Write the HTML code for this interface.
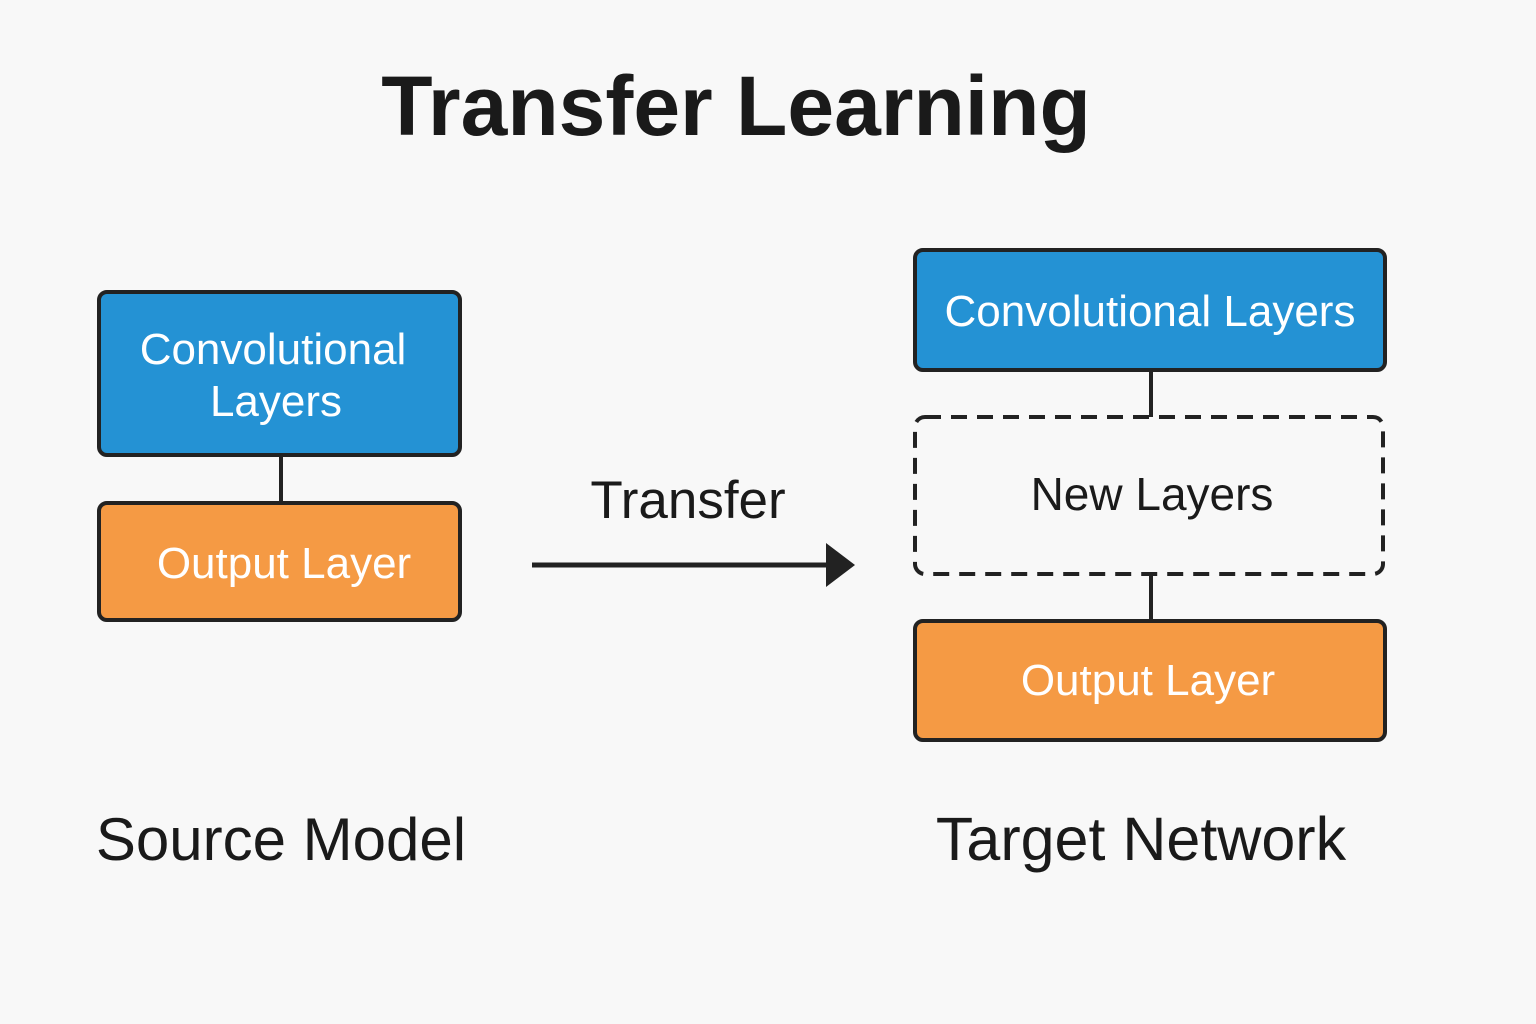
<!DOCTYPE html>
<html><head><meta charset="utf-8"><style>
body{margin:0;background:#f8f8f8;}
svg{display:block}
text{font-family:"Liberation Sans",sans-serif;}
</style></head><body>
<svg width="1536" height="1024" viewBox="0 0 1536 1024">
<rect width="1536" height="1024" fill="#f8f8f8"/>
<text x="736" y="135" font-size="84" font-weight="bold" fill="#1a1a1a" text-anchor="middle">Transfer Learning</text>
<line x1="281" y1="455" x2="281" y2="503" stroke="#222" stroke-width="4"/>
<rect x="99" y="292" width="361" height="163" rx="8" fill="#2492d4" stroke="#222" stroke-width="4"/>
<text x="273" y="364" font-size="44" fill="#fff" text-anchor="middle">Convolutional</text>
<text x="276" y="416" font-size="44" fill="#fff" text-anchor="middle">Layers</text>
<rect x="99" y="503" width="361" height="117" rx="8" fill="#f59a44" stroke="#222" stroke-width="4"/>
<text x="284" y="578" font-size="44" fill="#fff" text-anchor="middle">Output Layer</text>
<text x="688" y="518" font-size="53" fill="#1a1a1a" text-anchor="middle">Transfer</text>
<line x1="532" y1="565" x2="832" y2="565" stroke="#222" stroke-width="5"/>
<polygon points="826,543 855,565 826,587" fill="#222"/>
<line x1="1151" y1="370" x2="1151" y2="417" stroke="#222" stroke-width="4"/>
<line x1="1151" y1="574" x2="1151" y2="621" stroke="#222" stroke-width="4"/>
<rect x="915" y="250" width="470" height="120" rx="8" fill="#2492d4" stroke="#222" stroke-width="4"/>
<text x="1150" y="326" font-size="44" fill="#fff" text-anchor="middle">Convolutional Layers</text>
<rect x="915" y="417" width="468" height="157" rx="10" fill="none" stroke="#222" stroke-width="4" stroke-dasharray="16,10"/>
<text x="1152" y="510" font-size="46" fill="#1a1a1a" text-anchor="middle">New Layers</text>
<rect x="915" y="621" width="470" height="119" rx="8" fill="#f59a44" stroke="#222" stroke-width="4"/>
<text x="1148" y="695" font-size="44" fill="#fff" text-anchor="middle">Output Layer</text>
<text x="281" y="860" font-size="60" fill="#1a1a1a" text-anchor="middle">Source Model</text>
<text x="1141" y="860" font-size="61" fill="#1a1a1a" text-anchor="middle">Target Network</text>
</svg>
</body></html>
